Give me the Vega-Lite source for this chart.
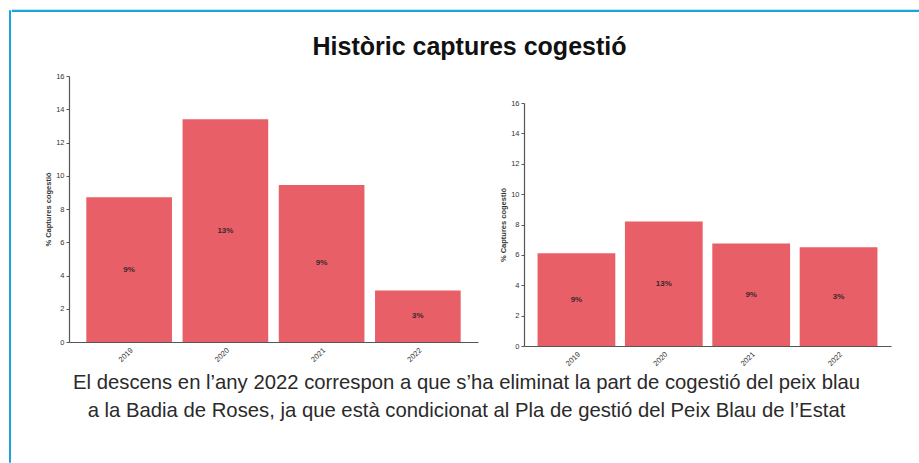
{
  "$schema": "https://vega.github.io/schema/vega-lite/v6.json",
  "background": "white",
  "padding": {"left": 8, "top": 9, "right": 0, "bottom": 0},
  "config": {
    "font": "Liberation Sans",
    "view": {"stroke": null},
    "axisY": {"domainColor": "#555", "domainWidth": 1.2, "tickColor": "#555", "tickSize": 3, "tickWidth": 1, "labelFontSize": 7.5, "labelColor": "#333", "labelPadding": 2, "titleFontSize": 7.5, "titleFontWeight": "bold", "titleColor": "#333", "titlePadding": 3, "grid": false},
    "axisX": {"domainColor": "#555", "domainWidth": 1.2, "ticks": false, "labelFontSize": 7.5, "labelColor": "#333", "labelAngle": -45, "labelPadding": 4, "grid": false}
  },
  "datasets": {
    "left": [
      {"year": "2019", "value": 8.7, "label": "9%"},
      {"year": "2020", "value": 13.4, "label": "13%"},
      {"year": "2021", "value": 9.45, "label": "9%"},
      {"year": "2022", "value": 3.1, "label": "3%"}
    ],
    "right": [
      {"year": "2019", "value": 6.1, "label": "9%"},
      {"year": "2020", "value": 8.2, "label": "13%"},
      {"year": "2021", "value": 6.75, "label": "9%"},
      {"year": "2022", "value": 6.5, "label": "3%"}
    ],
    "blank": [{"k": 1}]
  },
  "spacing": 0,
  "hconcat": [
    {
      "width": 1, "height": 452,
      "data": {"name": "blank"},
      "mark": {"type": "point", "opacity": 0, "size": 1},
      "view": {"stroke": "#1aa3dc", "strokeWidth": 1}
    },
    {
      "spacing": 23,
      "title": {
        "text": ["El descens en l’any 2022 correspon a que s’ha eliminat la part de cogestió del peix blau", "a la Badia de Roses, ja que està condicionat al Pla de gestió del Peix Blau de l’Estat"],
        "orient": "bottom", "anchor": "middle", "fontSize": 20.3, "fontWeight": "normal", "color": "#2a2a2a", "lineHeight": 28, "offset": 6, "font": "Liberation Sans"
      },
      "vconcat": [
        {
          "width": 909, "height": 1,
          "data": {"name": "blank"},
          "mark": {"type": "point", "opacity": 0, "size": 1},
          "view": {"stroke": "#1aa3dc", "strokeWidth": 1.2}
        },
        {
          "spacing": 21,
          "title": {"text": "Històric captures cogestió", "anchor": "middle", "fontSize": 25, "fontWeight": "bold", "color": "#111", "offset": 12, "dx": 18},
          "hconcat": [
            {
              "width": 11, "height": 1,
              "data": {"name": "blank"},
              "mark": {"type": "point", "opacity": 0, "size": 1}
            },
            {
              "width": 409, "height": 266,
              "data": {"name": "left"},
              "encoding": {
                "x": {"field": "year", "type": "nominal", "title": null, "scale": {"paddingInner": 0.11, "paddingOuter": 0.18}}
              },
              "layer": [
                {
                  "mark": {"type": "bar", "color": "#e85f67"},
                  "encoding": {"y": {"field": "value", "type": "quantitative", "title": "% Captures cogestió", "scale": {"domain": [0, 16]}, "axis": {"values": [0, 2, 4, 6, 8, 10, 12, 14, 16]}}}
                },
                {
                  "mark": {"type": "text", "fontSize": 8, "fontWeight": "bold", "color": "#3a2a2a"},
                  "encoding": {"y": {"field": "value", "type": "quantitative", "scale": {"domain": [0, 32]}, "axis": null}, "text": {"field": "label"}}
                }
              ],
              "resolve": {"scale": {"y": "independent"}}
            },
            {
              "spacing": 0,
              "vconcat": [
                {
                  "width": 1, "height": 23,
                  "data": {"name": "blank"},
                  "mark": {"type": "point", "opacity": 0, "size": 1}
                },
                {
                  "width": 367, "height": 243,
                  "data": {"name": "right"},
                  "encoding": {
                    "x": {"field": "year", "type": "nominal", "title": null, "scale": {"paddingInner": 0.11, "paddingOuter": 0.155}}
                  },
                  "layer": [
                    {
                      "mark": {"type": "bar", "color": "#e85f67"},
                      "encoding": {"y": {"field": "value", "type": "quantitative", "title": "% Captures cogestió", "scale": {"domain": [0, 16]}, "axis": {"values": [0, 2, 4, 6, 8, 10, 12, 14, 16]}}}
                    },
                    {
                      "mark": {"type": "text", "fontSize": 8, "fontWeight": "bold", "color": "#3a2a2a"},
                      "encoding": {"y": {"field": "value", "type": "quantitative", "scale": {"domain": [0, 32]}, "axis": null}, "text": {"field": "label"}}
                    }
                  ],
                  "resolve": {"scale": {"y": "independent"}}
                }
              ]
            }
          ]
        }
      ]
    }
  ]
}
